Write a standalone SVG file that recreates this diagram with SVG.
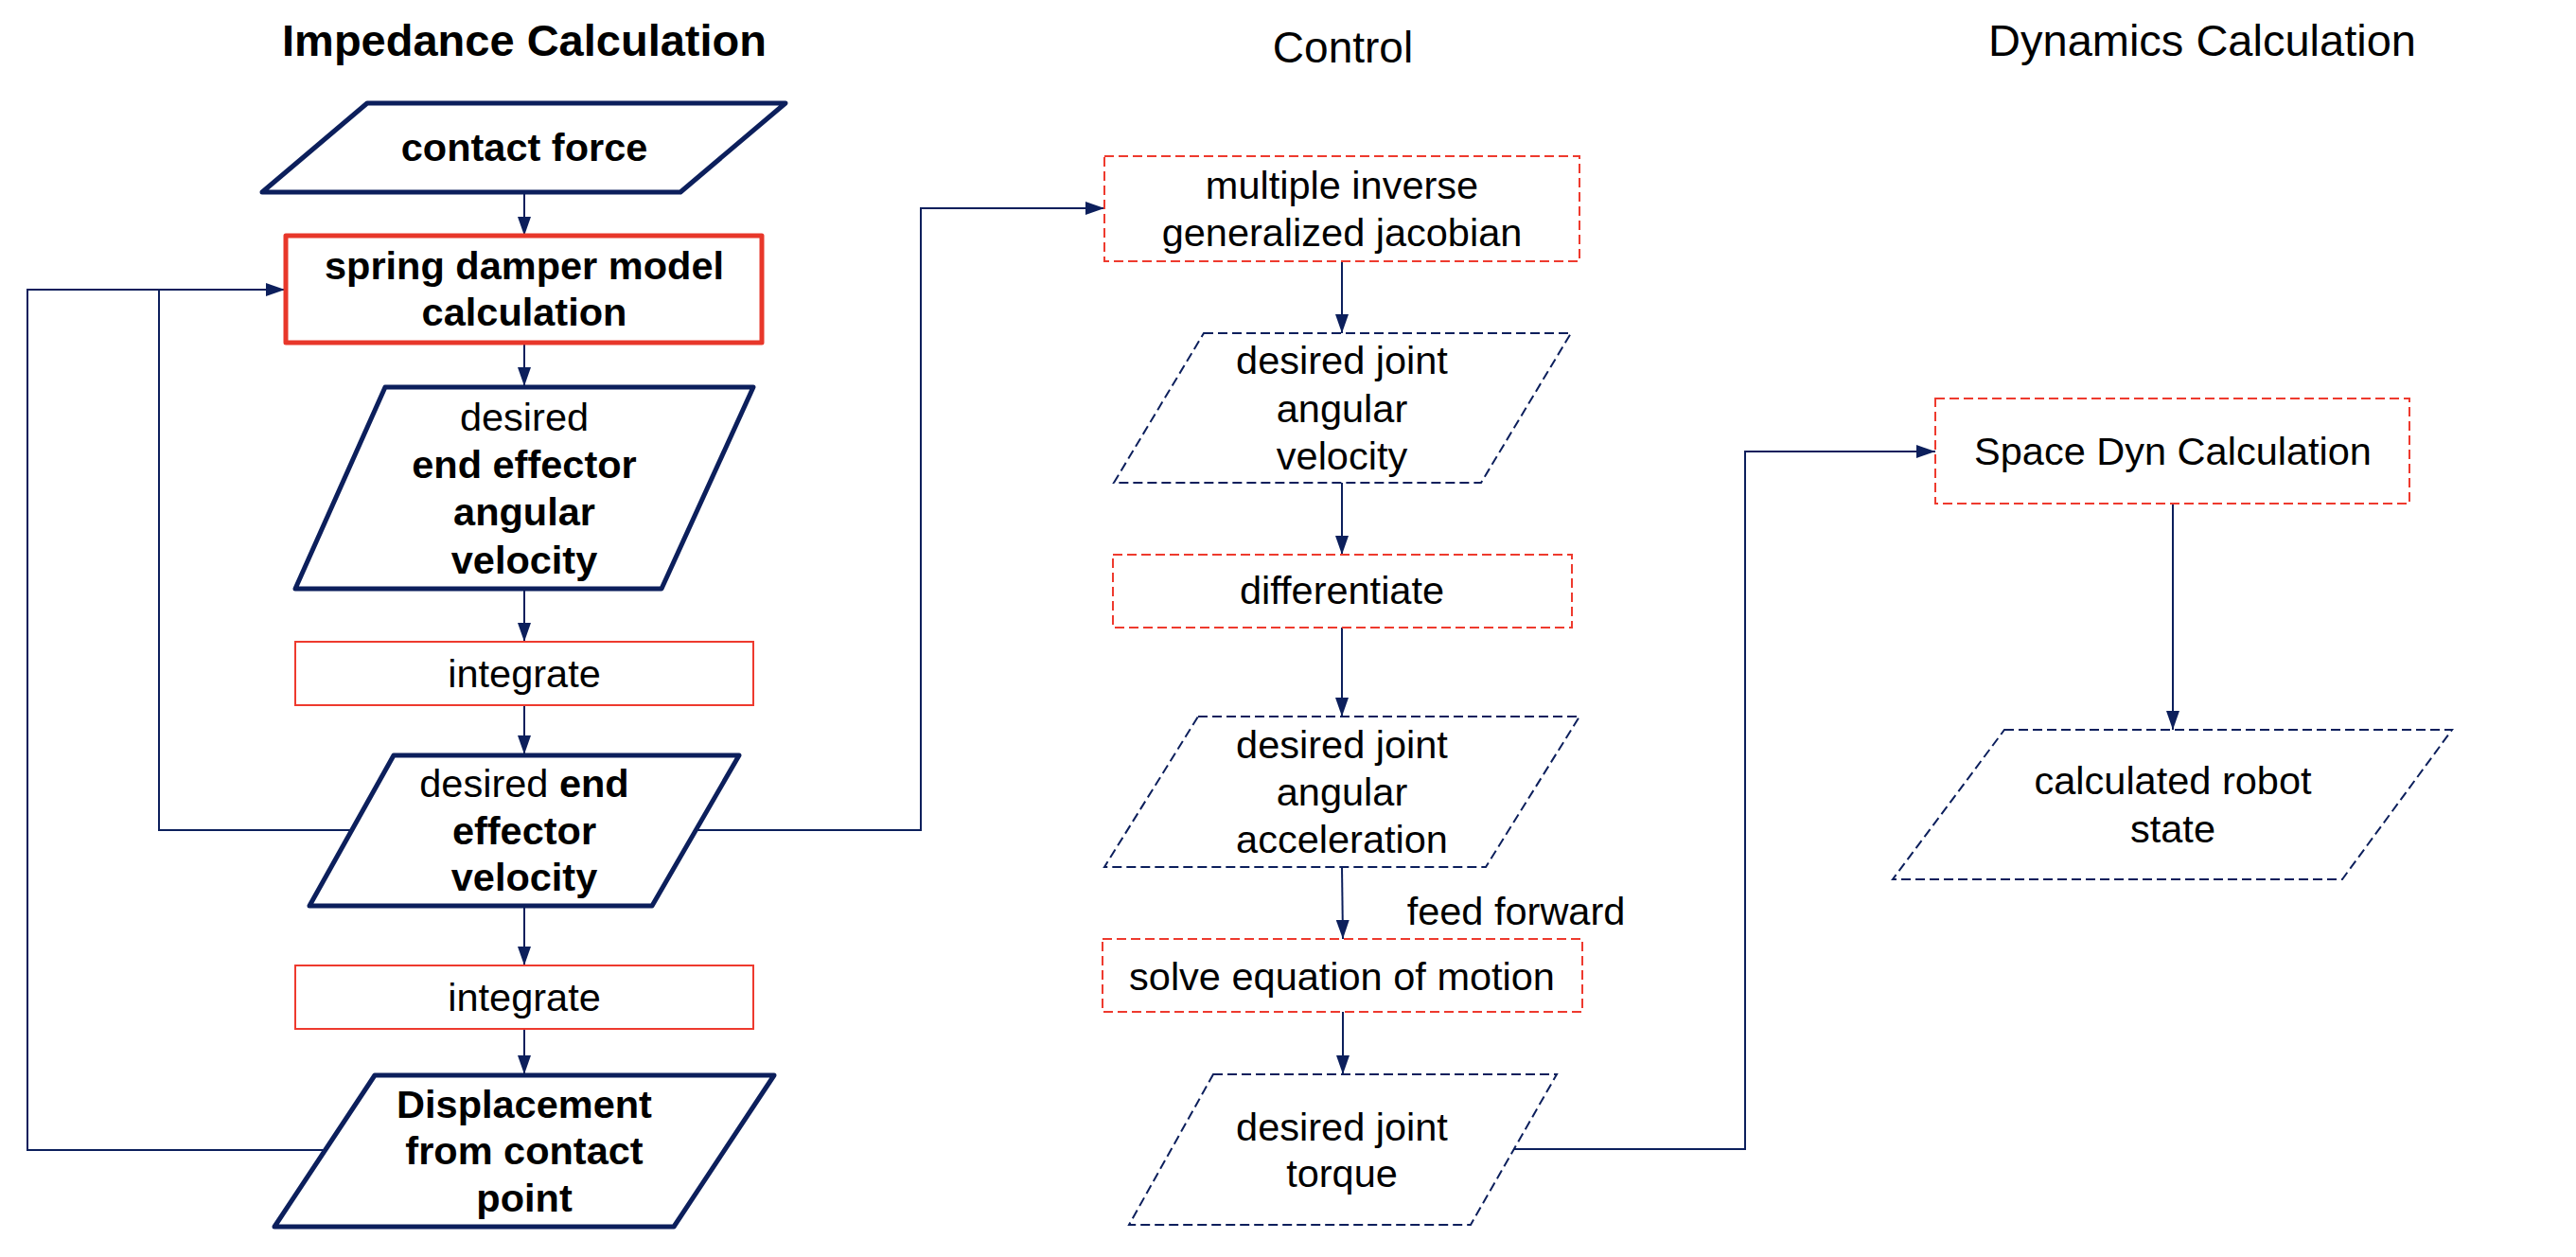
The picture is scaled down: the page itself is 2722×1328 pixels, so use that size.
<svg xmlns="http://www.w3.org/2000/svg" width="2722" height="1328" viewBox="0 0 2722 1328">
<style>
.t{font-family:"Liberation Sans",Arial,sans-serif;fill:#000;text-anchor:middle}
.n{font-size:41.5px}
.b{font-weight:bold}
.title{font-size:47px}
.thick{fill:#fff;stroke:#0c1f5c;stroke-width:5;stroke-linejoin:round}
.redthick{fill:#fff;stroke:#e8372a;stroke-width:5;stroke-linejoin:round}
.redthin{fill:#fff;stroke:#ee3a2e;stroke-width:2}
.reddash{fill:#fff;stroke:#ee3a2e;stroke-width:2;stroke-dasharray:10 5}
.navydash{fill:#fff;stroke:#0c1f5c;stroke-width:2;stroke-dasharray:10 5}
.c{fill:none;stroke:#0c1f5c;stroke-width:2}
</style>
<defs>
<marker id="ah" markerUnits="userSpaceOnUse" markerWidth="20" markerHeight="14" refX="20" refY="7" orient="auto">
<path d="M0,0 L20,7 L0,14 z" fill="#0c1f5c"/>
</marker>
</defs>
<rect x="0" y="0" width="2722" height="1328" fill="#fff"/>

<g id="titles">
<text class="t title b" x="554" y="59">Impedance Calculation</text>
<text class="t" style="font-size:46px" x="1419" y="66">Control</text>
<text class="t title" x="2327" y="59">Dynamics Calculation</text>
</g>

<g id="connectors">
<line class="c" x1="554" y1="205" x2="554" y2="249" marker-end="url(#ah)"/>
<line class="c" x1="554" y1="364" x2="554" y2="408" marker-end="url(#ah)"/>
<line class="c" x1="554" y1="624" x2="554" y2="678" marker-end="url(#ah)"/>
<line class="c" x1="554" y1="745" x2="554" y2="797" marker-end="url(#ah)"/>
<line class="c" x1="554" y1="959" x2="554" y2="1020" marker-end="url(#ah)"/>
<line class="c" x1="554" y1="1087" x2="554" y2="1135" marker-end="url(#ah)"/>
<polyline class="c" points="372,877 168,877 168,306 301,306" marker-end="url(#ah)"/>
<polyline class="c" points="344,1215 29,1215 29,306 168,306"/>
<polyline class="c" points="735,877 973,877 973,220 1167,220" marker-end="url(#ah)"/>
<line class="c" x1="1418" y1="276" x2="1418" y2="352" marker-end="url(#ah)"/>
<line class="c" x1="1418" y1="510" x2="1418" y2="586" marker-end="url(#ah)"/>
<line class="c" x1="1418" y1="663" x2="1418" y2="757" marker-end="url(#ah)"/>
<line class="c" x1="1418" y1="916" x2="1419" y2="992" marker-end="url(#ah)"/>
<line class="c" x1="1419" y1="1069" x2="1419" y2="1135" marker-end="url(#ah)"/>
<polyline class="c" points="1600,1214 1844,1214 1844,477 2045,477" marker-end="url(#ah)"/>
<line class="c" x1="2296" y1="532" x2="2296" y2="771" marker-end="url(#ah)"/>
<text class="t n" x="1602" y="977">feed forward</text>
</g>

<g id="contact-force">
<polygon class="thick" points="388,109 830,109 719,203 277,203"/>
<text class="t n b" x="554" y="170">contact force</text>
</g>

<g id="spring-damper">
<rect class="redthick" x="302" y="249" width="503" height="113"/>
<text class="t n b" x="554" y="295">spring damper model</text>
<text class="t n b" x="554" y="344">calculation</text>
</g>

<g id="ee-angular-velocity">
<polygon class="thick" points="407,409 796,409 699,622 312,622"/>
<text class="t n" x="554" y="455">desired</text>
<text class="t n b" x="554" y="505">end effector</text>
<text class="t n b" x="554" y="555">angular</text>
<text class="t n b" x="554" y="606">velocity</text>
</g>

<g id="integrate-1">
<rect class="redthin" x="312" y="678" width="484" height="67"/>
<text class="t n" x="554" y="726">integrate</text>
</g>

<g id="ee-velocity">
<polygon class="thick" points="416,798 781,798 689,957 327,957"/>
<text class="t n" x="554" y="842">desired <tspan class="b">end</tspan></text>
<text class="t n b" x="554" y="892">effector</text>
<text class="t n b" x="554" y="941">velocity</text>
</g>

<g id="integrate-2">
<rect class="redthin" x="312" y="1020" width="484" height="67"/>
<text class="t n" x="554" y="1068">integrate</text>
</g>

<g id="displacement">
<polygon class="thick" points="396,1136 818,1136 712,1296 290,1296"/>
<text class="t n b" x="554" y="1181">Displacement</text>
<text class="t n b" x="554" y="1230">from contact</text>
<text class="t n b" x="554" y="1280">point</text>
</g>

<g id="inverse-jacobian">
<rect class="reddash" x="1167" y="165" width="502" height="111"/>
<text class="t n" x="1418" y="210">multiple inverse</text>
<text class="t n" x="1418" y="260">generalized jacobian</text>
</g>

<g id="joint-velocity">
<polygon class="navydash" points="1272,352 1660,352 1565,510 1177,510"/>
<text class="t n" x="1418" y="395">desired joint</text>
<text class="t n" x="1418" y="446">angular</text>
<text class="t n" x="1418" y="496">velocity</text>
</g>

<g id="differentiate">
<rect class="reddash" x="1176" y="586" width="485" height="77"/>
<text class="t n" x="1418" y="638">differentiate</text>
</g>

<g id="joint-acceleration">
<polygon class="navydash" points="1266,757 1669,757 1570,916 1167,916"/>
<text class="t n" x="1418" y="801">desired joint</text>
<text class="t n" x="1418" y="851">angular</text>
<text class="t n" x="1418" y="901">acceleration</text>
</g>

<g id="solve-eom">
<rect class="reddash" x="1165" y="992" width="507" height="77"/>
<text class="t n" x="1418" y="1046">solve equation of motion</text>
</g>

<g id="joint-torque">
<polygon class="navydash" points="1282,1135 1645,1135 1554,1294 1193,1294"/>
<text class="t n" x="1418" y="1205">desired joint</text>
<text class="t n" x="1418" y="1254">torque</text>
</g>

<g id="space-dyn">
<rect class="reddash" x="2045" y="421" width="501" height="111"/>
<text class="t n" x="2296" y="491">Space Dyn Calculation</text>
</g>

<g id="robot-state">
<polygon class="navydash" points="2118,771 2591,771 2475,929 2000,929"/>
<text class="t n" x="2296" y="839">calculated robot</text>
<text class="t n" x="2296" y="890">state</text>
</g>
</svg>
